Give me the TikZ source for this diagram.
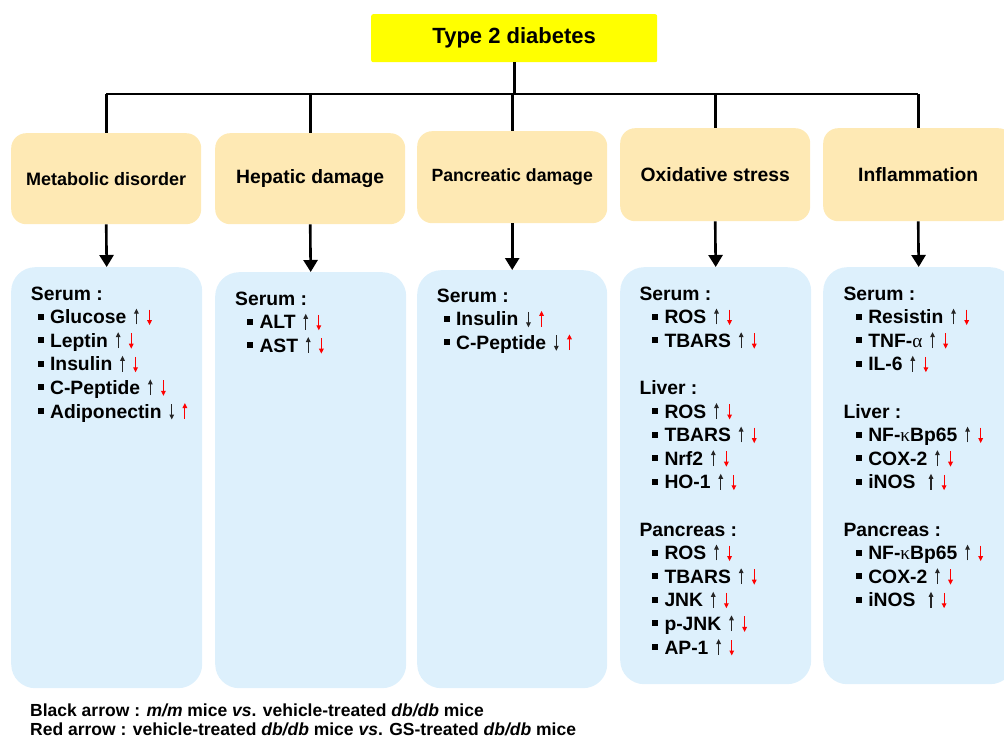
\documentclass[tikz,border=0pt]{standalone}
\usepackage{fontspec}
\setmainfont{Liberation Sans}
\newfontfamily\grkfont{Liberation Serif}
\usetikzlibrary{arrows.meta}
\definecolor{catfill}{RGB}{254,233,180}
\definecolor{boxfill}{RGB}{221,240,252}
\definecolor{topfill}{RGB}{255,255,0}
\newcommand\mybul{\makebox[12.6pt][l]{\raisebox{4pt}{\rule{6pt}{6pt}}}}
\newcommand\arrUp[1]{\makebox[9.6pt]{\tikz[baseline=0pt,x=1pt,y=1pt]\draw[#1,line width=1.1pt,-{Triangle[width=4.6pt,length=5pt]}] (0,-0.8)--(0,15);}}
\newcommand\arrDn[1]{\makebox[9.6pt]{\tikz[baseline=0pt,x=1pt,y=1pt]\draw[#1,line width=1.1pt,-{Triangle[width=4.6pt,length=5pt]}] (0,14)--(0,-1.5);}}
\newcommand\myud{\arrUp{black!85}\hspace{3.5pt}\arrDn{red}}
\newcommand\mydu{\arrDn{black!85}\hspace{3.5pt}\arrUp{red}}
\newcommand\myalpha{{\grkfont\mdseries α}}
\newcommand\mykappa{{\grkfont\mdseries κ}}
\begin{document}
\begin{tikzpicture}[x=1pt,y=-1pt,
  conn/.style={line width=2.6pt},
  arr/.style={line width=2.6pt,-{Triangle[width=14pt,length=12pt]}},
  topbox/.style={fill=topfill,rounded corners=2pt,anchor=north west,inner sep=0,
    minimum width=286pt,minimum height=48pt,font=\bfseries\fontsize{22}{26}\selectfont},
  catbox/.style={fill=catfill,rounded corners=15pt,anchor=north west,inner sep=0,
    minimum width=190pt,font=\bfseries\fontsize{19.3}{23}\selectfont},
  bluebox/.style={fill=boxfill,rounded corners=24pt,anchor=north west,inner sep=0,
    minimum width=191pt},
  item/.style={anchor=base west,inner sep=0,font=\bfseries\fontsize{19.3}{23}\selectfont},
  legend/.style={anchor=base west,inner sep=0,font=\bfseries\fontsize{17.5}{20}\selectfont}]
\useasboundingbox (0,0) rectangle (1004,738);
\clip (0,0) rectangle (1004,738);

% top
\node[topbox] (top) at (371,14) {Type 2 diabetes};

% categories
\node[catbox,minimum height=91pt,font=\bfseries\fontsize{18}{22}\selectfont] (c1) at (11,133) {Metabolic disorder};
\node[catbox,minimum height=91pt] (c2) at (215,133) {Hepatic damage};
\node[catbox,minimum height=92pt,font=\bfseries\fontsize{17.7}{22}\selectfont] (c3) at (417,131) {Pancreatic damage};
\node[catbox,minimum height=93pt] (c4) at (620,128) {Oxidative stress};
\node[catbox,minimum height=93pt] (c5) at (823,128) {Inflammation};

% bus
\coordinate (bus) at (514,94);
\draw[conn] (top.south) -- (top.south |- bus);
\draw[conn] (c1.north |- bus) -- (c5.north |- bus);
\foreach \c in {c1,c2,c3,c4,c5}{
  \draw[conn] (\c.north |- bus) -- (\c.north);
}

% blue boxes
\node[bluebox,minimum height=421pt] (b1) at (11,267) {};
\node[bluebox,minimum height=416pt] (b2) at (215,272) {};
\node[bluebox,minimum height=418pt,minimum width=190pt] (b3) at (417,270) {};
\node[bluebox,minimum height=417pt] (b4) at (620,267) {};
\node[bluebox,minimum height=417pt] (b5) at (823,267) {};

% arrows
\foreach \i in {1,...,5}{
  \draw[arr] (c\i.south) -- (b\i.north);
}

% box 1
\node[item] (b1h) at (30.7,300) {Serum :};
\node[item] (b1i1) at (37.3,323.6) {\mybul Glucose \myud};
\node[item] (b1i2) at (37.3,347.2) {\mybul Leptin \myud};
\node[item] (b1i3) at (37.3,370.8) {\mybul Insulin \myud};
\node[item] (b1i4) at (37.3,394.4) {\mybul C-Peptide \myud};
\node[item] (b1i5) at (37.3,418.0) {\mybul Adiponectin \mydu};

% box 2
\node[item] (b2h) at (235,305.5) {Serum :};
\node[item] (b2i1) at (246.7,328.8) {\mybul ALT \myud};
\node[item] (b2i2) at (246.7,352.1) {\mybul AST \myud};

% box 3
\node[item] (b3h) at (436.7,302.5) {Serum :};
\node[item] (b3i1) at (443.3,325.9) {\mybul Insulin \mydu};
\node[item] (b3i2) at (443.3,349.3) {\mybul C-Peptide \mydu};

% box 4
\node[item] (b4h1) at (639.3,300) {Serum :};
\node[item] (b4i1) at (651.7,323.6) {\mybul ROS \myud};
\node[item] (b4i2) at (651.7,347.2) {\mybul TBARS \myud};
\node[item] (b4h2) at (639.3,394.4) {Liver :};
\node[item] (b4i3) at (651.7,418.0) {\mybul ROS \myud};
\node[item] (b4i4) at (651.7,441.6) {\mybul TBARS \myud};
\node[item] (b4i5) at (651.7,465.2) {\mybul Nrf2 \myud};
\node[item] (b4i6) at (651.7,488.8) {\mybul HO-1 \myud};
\node[item] (b4h3) at (639.3,536.0) {Pancreas :};
\node[item] (b4i7) at (651.7,559.6) {\mybul ROS \myud};
\node[item] (b4i8) at (651.7,583.2) {\mybul TBARS \myud};
\node[item] (b4i9) at (651.7,606.8) {\mybul JNK \myud};
\node[item] (b4i10) at (651.7,630.4) {\mybul p-JNK \myud};
\node[item] (b4i11) at (651.7,654.0) {\mybul AP-1 \myud};

% box 5
\node[item] (b5h1) at (843.3,300) {Serum :};
\node[item] (b5i1) at (855.5,323.6) {\mybul Resistin \myud};
\node[item] (b5i2) at (855.5,347.2) {\mybul TNF-\myalpha\ \myud};
\node[item] (b5i3) at (855.5,370.8) {\mybul IL-6 \myud};
\node[item] (b5h2) at (843.3,418.0) {Liver :};
\node[item] (b5i4) at (855.5,441.6) {\mybul NF-\mykappa Bp65 \myud};
\node[item] (b5i5) at (855.5,465.2) {\mybul COX-2 \myud};
\node[item] (b5i6) at (855.5,488.8) {\mybul iNOS\ \ \myud};
\node[item] (b5h3) at (843.3,536.0) {Pancreas :};
\node[item] (b5i7) at (855.5,559.6) {\mybul NF-\mykappa Bp65 \myud};
\node[item] (b5i8) at (855.5,583.2) {\mybul COX-2 \myud};
\node[item] (b5i9) at (855.5,606.8) {\mybul iNOS\ \ \myud};

% legend
\node[legend] (leg1) at (30,716.5) {Black arrow : \textit{m/m} mice \textit{vs}. vehicle-treated \textit{db/db} mice};
\node[legend] (leg2) at (30,735.5) {Red arrow : vehicle-treated \textit{db/db} mice \textit{vs}. GS-treated \textit{db/db} mice};
\end{tikzpicture}
\end{document}
